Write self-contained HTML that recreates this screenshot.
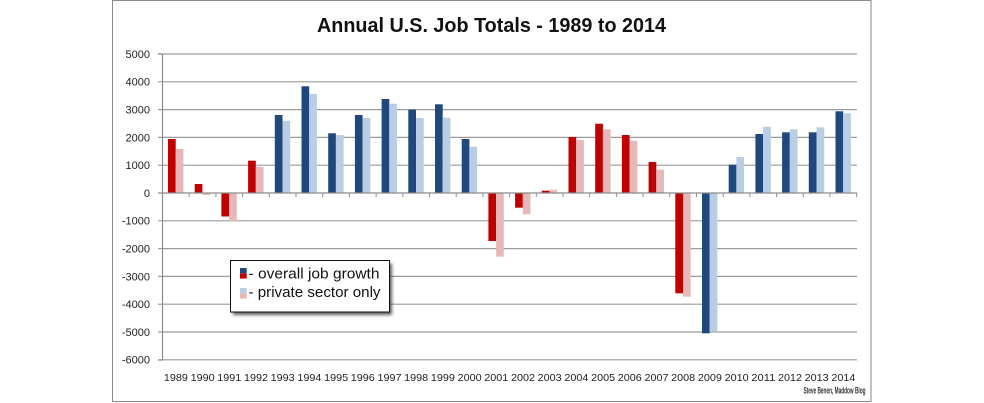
<!DOCTYPE html>
<html>
<head>
<meta charset="utf-8">
<style>
html,body{margin:0;padding:0;background:#fff;}
svg{display:block;}
text{font-family:"Liberation Sans",Arial,sans-serif;}
</style>
</head>
<body>
<svg width="984" height="403" viewBox="0 0 984 403" xmlns="http://www.w3.org/2000/svg">
<defs>
<filter id="sh" x="-10%" y="-10%" width="130%" height="140%">
<feGaussianBlur stdDeviation="1.5"/>
</filter>
</defs>
<rect x="0" y="0" width="984" height="403" fill="#fff"/>
<!-- frame -->
<rect x="112.5" y="0.5" width="758.5" height="401" fill="#fff" stroke="#8a8a8a" stroke-width="1"/>
<!-- title -->
<text x="491.5" y="32" text-anchor="middle" font-size="20" font-weight="bold" fill="#111" textLength="349" lengthAdjust="spacingAndGlyphs">Annual U.S. Job Totals - 1989 to 2014</text>

<!-- gridlines -->
<g stroke="#9a9a9a" stroke-width="1.2">
<line x1="158" y1="54" x2="857" y2="54"/>
<line x1="158" y1="81.8" x2="857" y2="81.8"/>
<line x1="158" y1="109.6" x2="857" y2="109.6"/>
<line x1="158" y1="137.4" x2="857" y2="137.4"/>
<line x1="158" y1="165.2" x2="857" y2="165.2"/>
<line x1="158" y1="220.8" x2="857" y2="220.8"/>
<line x1="158" y1="248.6" x2="857" y2="248.6"/>
<line x1="158" y1="276.4" x2="857" y2="276.4"/>
<line x1="158" y1="304.2" x2="857" y2="304.2"/>
<line x1="158" y1="332" x2="857" y2="332"/>
<line x1="158" y1="359.8" x2="857" y2="359.8"/>
</g>

<!-- y labels -->
<g font-size="11" fill="#222" text-anchor="end">
<text x="150" y="57.9">5000</text>
<text x="150" y="85.7">4000</text>
<text x="150" y="113.5">3000</text>
<text x="150" y="141.3">2000</text>
<text x="150" y="169.1">1000</text>
<text x="150" y="196.9">0</text>
<text x="150" y="224.7">-1000</text>
<text x="150" y="252.5">-2000</text>
<text x="150" y="280.3">-3000</text>
<text x="150" y="308.1">-4000</text>
<text x="150" y="335.9">-5000</text>
<text x="150" y="363.7">-6000</text>
</g>

<!-- bars -->
<g>
<rect x="168.0" y="139" width="7.7" height="54" fill="#C00000"/>
<rect x="175.7" y="149" width="7.7" height="44" fill="#E6B9B8"/>
<rect x="194.7" y="184" width="7.7" height="9" fill="#C00000"/>
<rect x="202.4" y="193" width="7.7" height="2" fill="#E6B9B8"/>
<rect x="221.4" y="193" width="7.7" height="23.5" fill="#C00000"/>
<rect x="229.1" y="193" width="7.7" height="28" fill="#E6B9B8"/>
<rect x="248.1" y="160.7" width="7.7" height="32.3" fill="#C00000"/>
<rect x="255.8" y="166.7" width="7.7" height="26.3" fill="#E6B9B8"/>
<rect x="274.8" y="115" width="7.7" height="78" fill="#1F497D"/>
<rect x="282.5" y="120.7" width="7.7" height="72.3" fill="#B9CDE5"/>
<rect x="301.5" y="86.3" width="7.7" height="106.7" fill="#1F497D"/>
<rect x="309.2" y="94" width="7.7" height="99" fill="#B9CDE5"/>
<rect x="328.2" y="133.3" width="7.7" height="59.7" fill="#1F497D"/>
<rect x="335.9" y="135" width="7.7" height="58" fill="#B9CDE5"/>
<rect x="354.9" y="115" width="7.7" height="78" fill="#1F497D"/>
<rect x="362.6" y="118" width="7.7" height="75" fill="#B9CDE5"/>
<rect x="381.6" y="99" width="7.7" height="94" fill="#1F497D"/>
<rect x="389.3" y="103.7" width="7.7" height="89.3" fill="#B9CDE5"/>
<rect x="408.3" y="109.7" width="7.7" height="83.3" fill="#1F497D"/>
<rect x="416.0" y="118" width="7.7" height="75" fill="#B9CDE5"/>
<rect x="435.0" y="104.3" width="7.7" height="88.7" fill="#1F497D"/>
<rect x="442.7" y="117.7" width="7.7" height="75.3" fill="#B9CDE5"/>
<rect x="461.7" y="139" width="7.7" height="54" fill="#1F497D"/>
<rect x="469.4" y="146.7" width="7.7" height="46.3" fill="#B9CDE5"/>
<rect x="488.4" y="193" width="7.7" height="48" fill="#C00000"/>
<rect x="496.1" y="193" width="7.7" height="63.7" fill="#E6B9B8"/>
<rect x="515.1" y="193" width="7.7" height="14.7" fill="#C00000"/>
<rect x="522.8" y="193" width="7.7" height="21.3" fill="#E6B9B8"/>
<rect x="541.8" y="190.7" width="7.7" height="2.3" fill="#C00000"/>
<rect x="549.5" y="189.7" width="7.7" height="3.3" fill="#E6B9B8"/>
<rect x="568.5" y="137" width="7.7" height="56" fill="#C00000"/>
<rect x="576.2" y="140" width="7.7" height="53" fill="#E6B9B8"/>
<rect x="595.2" y="123.7" width="7.7" height="69.3" fill="#C00000"/>
<rect x="602.9" y="129.3" width="7.7" height="63.7" fill="#E6B9B8"/>
<rect x="621.9" y="135" width="7.7" height="58" fill="#C00000"/>
<rect x="629.6" y="140.7" width="7.7" height="52.3" fill="#E6B9B8"/>
<rect x="648.6" y="162" width="7.7" height="31" fill="#C00000"/>
<rect x="656.3" y="169.7" width="7.7" height="23.3" fill="#E6B9B8"/>
<rect x="675.3" y="193" width="7.7" height="100.3" fill="#C00000"/>
<rect x="683.0" y="193" width="7.7" height="103.7" fill="#E6B9B8"/>
<rect x="702.0" y="193" width="7.7" height="140.3" fill="#1F497D"/>
<rect x="709.7" y="193" width="7.7" height="138.7" fill="#B9CDE5"/>
<rect x="728.7" y="164.7" width="7.7" height="28.3" fill="#1F497D"/>
<rect x="736.4" y="157" width="7.7" height="36" fill="#B9CDE5"/>
<rect x="755.4" y="134" width="7.7" height="59" fill="#1F497D"/>
<rect x="763.1" y="126.7" width="7.7" height="66.3" fill="#B9CDE5"/>
<rect x="782.1" y="132.3" width="7.7" height="60.7" fill="#1F497D"/>
<rect x="789.8" y="129.3" width="7.7" height="63.7" fill="#B9CDE5"/>
<rect x="808.8" y="132.3" width="7.7" height="60.7" fill="#1F497D"/>
<rect x="816.5" y="127.3" width="7.7" height="65.7" fill="#B9CDE5"/>
<rect x="835.5" y="111.3" width="7.7" height="81.7" fill="#1F497D"/>
<rect x="843.2" y="113.3" width="7.7" height="79.7" fill="#B9CDE5"/>
</g>

<!-- axes -->
<g stroke="#8c8c8c" stroke-width="1.2">
<line x1="162.5" y1="54" x2="162.5" y2="360"/>
<line x1="158" y1="193" x2="857" y2="193"/>
<line x1="158" y1="54" x2="162.5" y2="54"/>
<line x1="158" y1="360" x2="162.5" y2="360"/>
</g>
<g stroke="#8c8c8c" stroke-width="1">
<line x1="162.5" y1="193" x2="162.5" y2="197"/>
<line x1="189.2" y1="193" x2="189.2" y2="197"/>
<line x1="215.9" y1="193" x2="215.9" y2="197"/>
<line x1="242.6" y1="193" x2="242.6" y2="197"/>
<line x1="269.3" y1="193" x2="269.3" y2="197"/>
<line x1="296.0" y1="193" x2="296.0" y2="197"/>
<line x1="322.7" y1="193" x2="322.7" y2="197"/>
<line x1="349.4" y1="193" x2="349.4" y2="197"/>
<line x1="376.1" y1="193" x2="376.1" y2="197"/>
<line x1="402.8" y1="193" x2="402.8" y2="197"/>
<line x1="429.5" y1="193" x2="429.5" y2="197"/>
<line x1="456.2" y1="193" x2="456.2" y2="197"/>
<line x1="482.9" y1="193" x2="482.9" y2="197"/>
<line x1="509.6" y1="193" x2="509.6" y2="197"/>
<line x1="536.3" y1="193" x2="536.3" y2="197"/>
<line x1="563.0" y1="193" x2="563.0" y2="197"/>
<line x1="589.7" y1="193" x2="589.7" y2="197"/>
<line x1="616.4" y1="193" x2="616.4" y2="197"/>
<line x1="643.1" y1="193" x2="643.1" y2="197"/>
<line x1="669.8" y1="193" x2="669.8" y2="197"/>
<line x1="696.5" y1="193" x2="696.5" y2="197"/>
<line x1="723.2" y1="193" x2="723.2" y2="197"/>
<line x1="749.9" y1="193" x2="749.9" y2="197"/>
<line x1="776.6" y1="193" x2="776.6" y2="197"/>
<line x1="803.3" y1="193" x2="803.3" y2="197"/>
<line x1="830.0" y1="193" x2="830.0" y2="197"/>
<line x1="856.7" y1="193" x2="856.7" y2="197"/>
</g>

<!-- x labels -->
<g font-size="10.5" fill="#222" text-anchor="middle">
<text x="175.9" y="381" textLength="24" lengthAdjust="spacingAndGlyphs">1989</text>
<text x="202.6" y="381" textLength="24" lengthAdjust="spacingAndGlyphs">1990</text>
<text x="229.3" y="381" textLength="24" lengthAdjust="spacingAndGlyphs">1991</text>
<text x="256.0" y="381" textLength="24" lengthAdjust="spacingAndGlyphs">1992</text>
<text x="282.7" y="381" textLength="24" lengthAdjust="spacingAndGlyphs">1993</text>
<text x="309.4" y="381" textLength="24" lengthAdjust="spacingAndGlyphs">1994</text>
<text x="336.1" y="381" textLength="24" lengthAdjust="spacingAndGlyphs">1995</text>
<text x="362.8" y="381" textLength="24" lengthAdjust="spacingAndGlyphs">1996</text>
<text x="389.5" y="381" textLength="24" lengthAdjust="spacingAndGlyphs">1997</text>
<text x="416.2" y="381" textLength="24" lengthAdjust="spacingAndGlyphs">1998</text>
<text x="442.9" y="381" textLength="24" lengthAdjust="spacingAndGlyphs">1999</text>
<text x="469.6" y="381" textLength="24" lengthAdjust="spacingAndGlyphs">2000</text>
<text x="496.3" y="381" textLength="24" lengthAdjust="spacingAndGlyphs">2001</text>
<text x="523.0" y="381" textLength="24" lengthAdjust="spacingAndGlyphs">2002</text>
<text x="549.7" y="381" textLength="24" lengthAdjust="spacingAndGlyphs">2003</text>
<text x="576.4" y="381" textLength="24" lengthAdjust="spacingAndGlyphs">2004</text>
<text x="603.1" y="381" textLength="24" lengthAdjust="spacingAndGlyphs">2005</text>
<text x="629.8" y="381" textLength="24" lengthAdjust="spacingAndGlyphs">2006</text>
<text x="656.5" y="381" textLength="24" lengthAdjust="spacingAndGlyphs">2007</text>
<text x="683.2" y="381" textLength="24" lengthAdjust="spacingAndGlyphs">2008</text>
<text x="709.9" y="381" textLength="24" lengthAdjust="spacingAndGlyphs">2009</text>
<text x="736.6" y="381" textLength="24" lengthAdjust="spacingAndGlyphs">2010</text>
<text x="763.3" y="381" textLength="24" lengthAdjust="spacingAndGlyphs">2011</text>
<text x="790.0" y="381" textLength="24" lengthAdjust="spacingAndGlyphs">2012</text>
<text x="816.7" y="381" textLength="24" lengthAdjust="spacingAndGlyphs">2013</text>
<text x="843.4" y="381" textLength="24" lengthAdjust="spacingAndGlyphs">2014</text>
</g>

<!-- legend -->
<rect x="233" y="263.5" width="159" height="51.5" fill="#444" filter="url(#sh)" opacity="0.85"/>
<rect x="230.5" y="260.5" width="159" height="51.5" fill="#fff" stroke="#111" stroke-width="1"/>
<rect x="240" y="268" width="6.7" height="5.3" fill="#1F497D"/>
<rect x="240" y="273.3" width="6.7" height="5.3" fill="#C00000"/>
<rect x="240" y="288" width="6.7" height="5.3" fill="#B9CDE5"/>
<rect x="240" y="293.3" width="6.7" height="5.3" fill="#E6B9B8"/>
<text x="248.5" y="278.5" font-size="15" fill="#111" textLength="131" lengthAdjust="spacingAndGlyphs">- overall job growth</text>
<text x="248.5" y="297" font-size="15" fill="#111" textLength="132" lengthAdjust="spacingAndGlyphs">- private sector only</text>

<!-- credit -->
<text x="803.5" y="393.5" font-size="9.5" font-weight="bold" fill="#333" textLength="62" lengthAdjust="spacingAndGlyphs">Steve Benen, Maddow Blog</text>
</svg>
</body>
</html>
